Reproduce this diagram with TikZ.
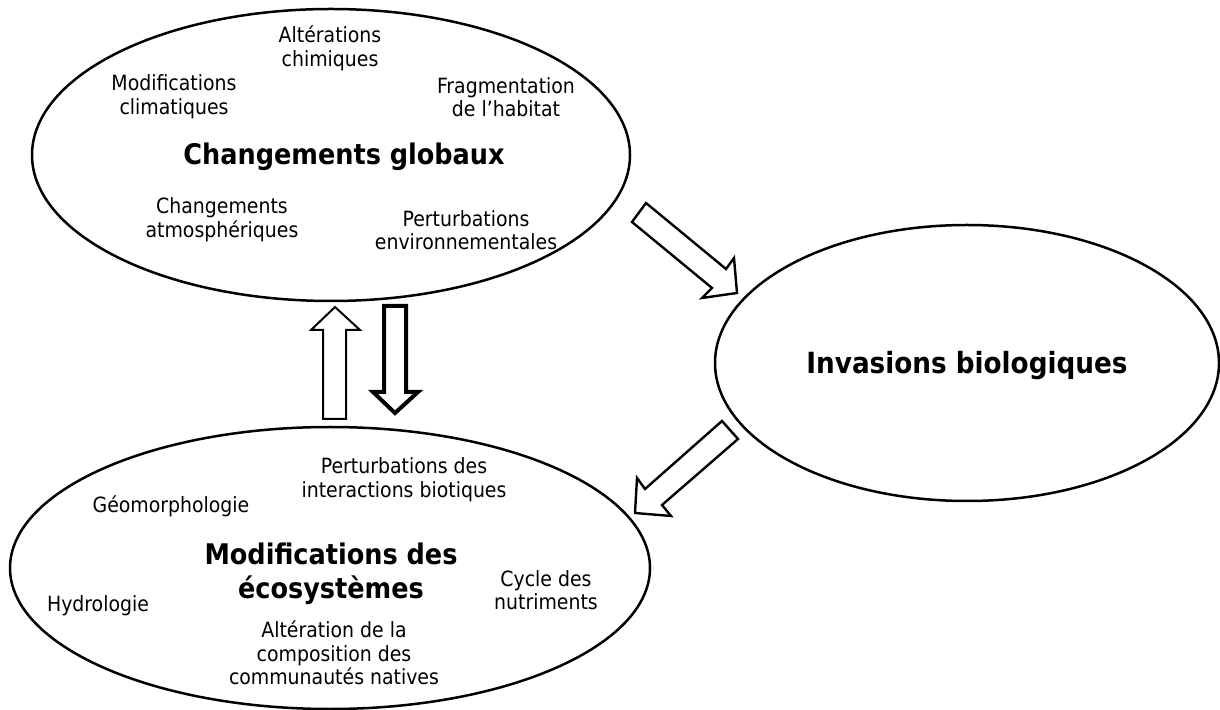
\documentclass[tikz,border=0pt]{standalone}
\usepackage{fontspec}
\setmainfont{DejaVu Sans Condensed}
\usepackage{tikz}
\usetikzlibrary{shapes.geometric}

\tikzset{
  blob/.style={draw, ellipse, line width=1.25pt, inner sep=0pt},
  lbl/.style={align=center, font=\fontsize{10.5}{11.8}\selectfont},
  title/.style={align=center, font=\fontsize{14.2}{17}\selectfont\bfseries},
  fat/.style={draw, line width=1.2pt, line join=miter}
}

\begin{document}
\begin{tikzpicture}[x=0.5pt, y=-0.5pt]
\useasboundingbox (0,0) rectangle (1220,710);

% the three ellipses
\node[blob, minimum width=299pt, minimum height=146pt] (glob) at (331,155) {};
\node[blob, minimum width=252pt, minimum height=138pt] (inv) at (967,363) {};
\node[blob, minimum width=320pt, minimum height=141pt] (eco) at (330,568) {};

% changements globaux
\node[title] (tglob) at (344,157) {Changements globaux};
\node[lbl] (chim) at (330,48) {Altérations\\chimiques};
\node[lbl] (clim) at (174,97) {Modifications\\climatiques};
\node[lbl] (frag) at (506,97) {Fragmentation\\de l'habitat};
\node[lbl] (atmo) at (222,220) {Changements\\atmosphériques};
\node[lbl] (pert) at (466,230) {Perturbations\\environnementales};

% invasions
\node[title, font=\fontsize{14.6}{17}\selectfont\bfseries] (tinv) at (967,366) {Invasions biologiques};

% modifications des ecosystemes
\node[title] (teco) at (331,574) {Modifications des\\écosystèmes};
\node[lbl] (biot) at (404,480) {Perturbations des\\interactions biotiques};
\node[lbl] (geo) at (171,506) {Géomorphologie};
\node[lbl] (hydro) at (98,606) {Hydrologie};
\node[lbl] (cyc) at (546,590) {Cycle des\\nutriments};
\node[lbl] (comp) at (334,653) {Altération de la\\composition des\\communautés natives};

% block arrows
\draw[fat] (646,203) -- (726,269) -- (734,258) -- (737,293) -- (702,298)
  -- (712,288) -- (632,222) -- cycle;
\draw[fat] (722,421) -- (645,489) -- (637,478) -- (635,513) -- (671,516)
  -- (662,505) -- (738,439) -- cycle;
\draw[fat, line width=1pt] (323,419) -- (323,330) -- (311,330) -- (335,307)
  -- (360,330) -- (346,330) -- (346,419) -- cycle;
\draw[fat, line width=2pt] (384,306) -- (406,306) -- (406,392) -- (418,392)
  -- (395,413) -- (373,392) -- (384,392) -- cycle;
\end{tikzpicture}
\end{document}
